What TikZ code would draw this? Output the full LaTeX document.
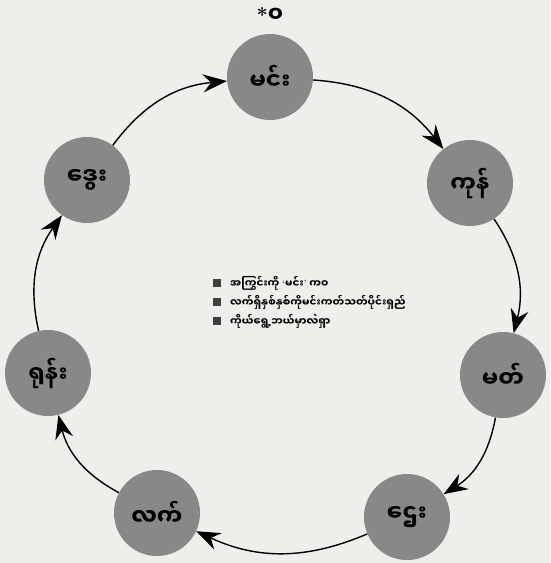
\documentclass[tikz,border=0pt]{standalone}
\usepackage{fontspec}
\usepackage{tikz}
\usetikzlibrary{arrows.meta}
\newfontfamily\mmfont[Script=Myanmar]{Noto Sans Myanmar UI}
\definecolor{discgray}{RGB}{136,136,136}
\definecolor{pagegray}{RGB}{238,238,235}

\begin{document}
\begin{tikzpicture}[x=1pt,y=-1pt,
  stage/.style={circle,fill=discgray,minimum size=86pt,inner sep=0pt,
    font=\mmfont\bfseries\fontsize{23}{26}\selectfont},
  cyclearrow/.style={-{Stealth[length=24pt,width=18pt,inset=8pt]},line width=1.4pt,bend left=24},
  legendbox/.style={fill=black!75,minimum size=8pt,inner sep=0pt},
  legendtext/.style={anchor=west,inner sep=0pt,font=\mmfont\bfseries\fontsize{10.5}{12}\selectfont}]

% Page
\fill[pagegray] (0,0) rectangle (550,563);
\useasboundingbox (0,0) rectangle (550,563);

% Stages round the cycle
\node[stage] (min)   at (270,77)  {မင်း};
\node[stage] (kon)   at (470,183) {ကုန်};
\node[stage] (mat)   at (503,375) {မတ်};
\node[stage] (htay)  at (407,517) {ဌေး};
\node[stage] (let)   at (157,513) {လက်};
\node[stage] (yon)   at (48,373)  {ရုန်း};
\node[stage] (dway)  at (87,180)  {ဒွေး};

% Start mark
\node[font=\bfseries\fontsize{20}{22}\selectfont] (start) at (270,15) {*{\mmfont\fontsize{22}{24}\selectfont ၀}};

% Arrows
\draw[cyclearrow] (dway) to (min);
\draw[cyclearrow] (min) to (kon);
\draw[cyclearrow] (kon) to (mat);
\draw[cyclearrow] (mat) to (htay);
\draw[cyclearrow] (htay) to (let);
\draw[cyclearrow] (let) to (yon);
\draw[cyclearrow] (yon) to (dway);

% Legend
\node[legendbox] (b1) at (217,283) {};
\node[legendbox] (b2) at (217,302) {};
\node[legendbox] (b3) at (217,321) {};
\node[legendtext] (t1) at (230,283) {အကြွင်းကို {\normalfont`}မင်း{\normalfont'} က၀};
\node[legendtext] (t2) at (230,302) {လက်ရှိနှစ်နှစ်ကိုမင်းကတ်သတ်ပိုင်းရှည်};
\node[legendtext] (t3) at (230,321) {ကိုယ်ရွေ့ဘယ်မှာလဲရှာ};

\end{tikzpicture}
\end{document}
